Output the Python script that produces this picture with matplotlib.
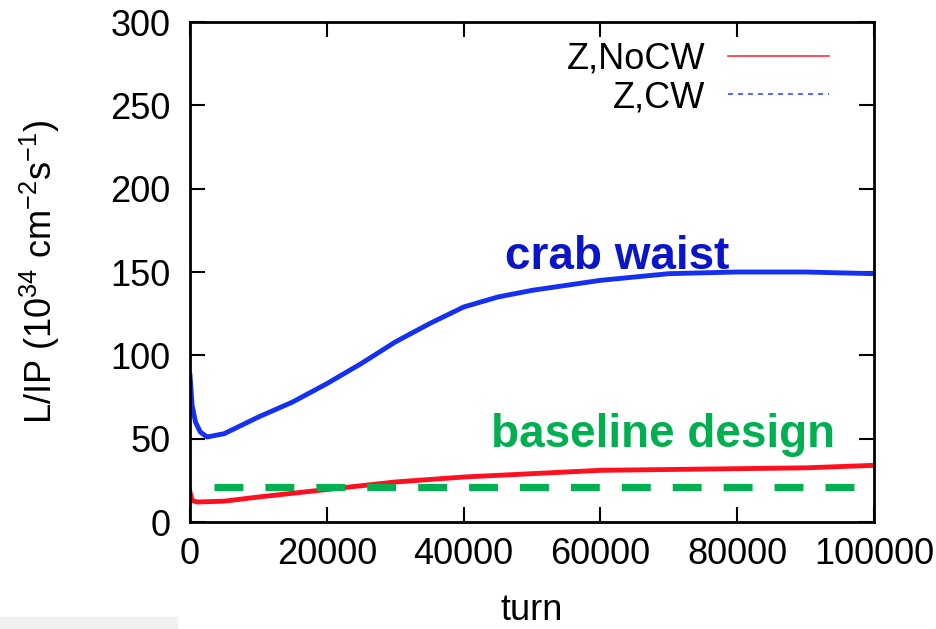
import numpy as np
import matplotlib.pyplot as plt
from matplotlib.lines import Line2D

plt.rcParams['font.family'] = ['Liberation Sans', 'DejaVu Sans']
plt.rcParams['mathtext.fontset'] = 'custom'
plt.rcParams['mathtext.rm'] = 'Liberation Sans'
plt.rcParams['mathtext.it'] = 'Liberation Sans:italic'

# luminosity per IP vs turn number
turn_cw = [0, 300, 800, 1500, 2500, 5000, 10000, 15000, 20000, 25000, 30000,
           35000, 40000, 45000, 50000, 55000, 60000, 70000, 80000, 90000, 100000]
lumi_cw = [88, 70, 60, 54, 51, 53, 63, 72, 83, 95, 108,
           119, 129, 135, 139, 142, 145, 149, 150, 150, 149]

turn_nocw = [0, 300, 1000, 5000, 10000, 20000, 30000, 40000, 50000,
             60000, 70000, 80000, 90000, 100000]
lumi_nocw = [18, 13, 12, 12.5, 15, 19.5, 24, 27, 29,
             31, 31.5, 32, 32.5, 34]

baseline_turn = [3500, 98000]
baseline_lumi = [21, 21]

fig = plt.figure(figsize=(9.37, 6.29), dpi=100)
ax = fig.add_axes([0.2028, 0.1701, 0.730, 0.7949])

ax.plot(turn_nocw, lumi_nocw, color='#ff1020', lw=3.5)
ax.plot(turn_cw, lumi_cw, color='#1530f0', lw=3.5)
ax.plot(baseline_turn, baseline_lumi, color='#00b050', lw=5.2,
        dashes=(4.0, 3.05), solid_capstyle='butt')

ax.text(62500, 159, 'crab waist', color='#0a14c8', fontsize=33,
        fontweight='bold', ha='center', va='center')
ax.text(69100, 52, 'baseline design', color='#00b050', fontsize=33,
        fontweight='bold', ha='center', va='center')

ax.set_xlim(0, 100000)
ax.set_ylim(0, 300)
ax.set_xticks(np.arange(0, 100001, 20000))
ax.set_yticks(np.arange(0, 301, 50))
ax.tick_params(direction='in', length=11, width=1.5, labelsize=26,
               top=True, right=True)
ax.tick_params(axis='x', pad=11)
ax.tick_params(axis='y', pad=14)
for s in ax.spines.values():
    s.set_linewidth(2)

ax.set_xlabel('turn', fontsize=26)
ax.xaxis.set_label_coords(0.5, -0.142)
ax.set_ylabel('L/IP (10$^{34}$ cm$^{-2}$s$^{-1}$)', fontsize=26)
ax.yaxis.set_label_coords(-0.187, 0.5)

handles = [Line2D([], [], color='#ff3040', lw=1.2),
           Line2D([], [], color='#3050ff', lw=1.2, ls=(0, (3, 3)))]
ax.legend(handles, ['Z,NoCW', 'Z,CW'], loc='upper right', frameon=False,
          markerfirst=False, fontsize=26, handlelength=2.8, handletextpad=0.63,
          labelspacing=0.1, borderaxespad=0, bbox_to_anchor=(0.956, 0.99))

# light strip along the bottom-left edge
fig.patches.append(plt.Rectangle((0, 0), 177 / 937, 12 / 629,
                                 transform=fig.transFigure,
                                 color='#f0f0f0', zorder=0))

fig.savefig('out.png', dpi=100)
